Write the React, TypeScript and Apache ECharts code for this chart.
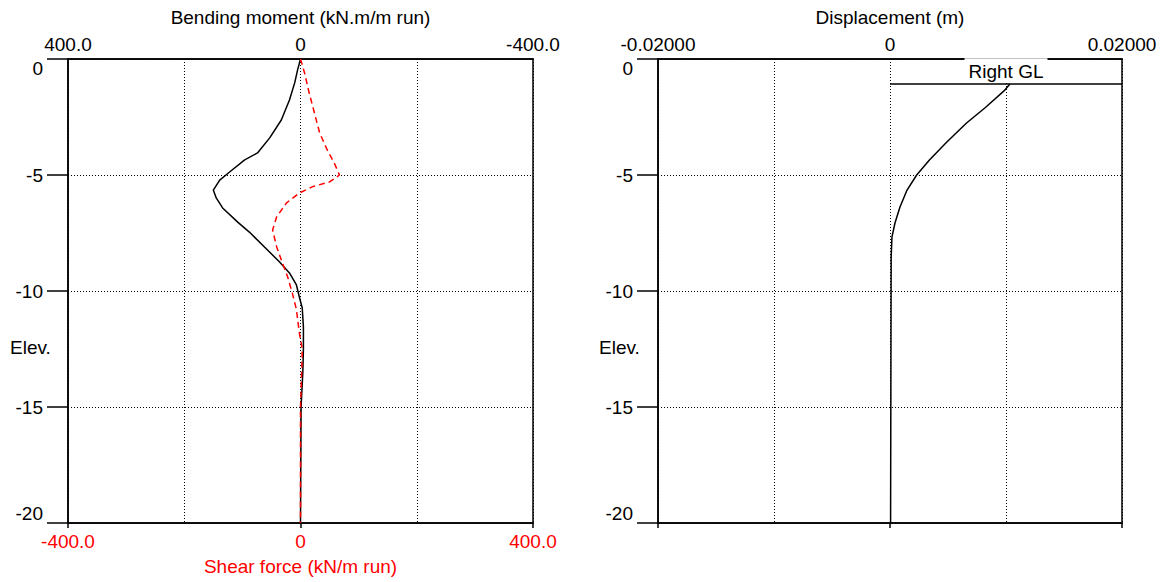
import React, { useEffect, useRef } from "react";
import * as echarts from "echarts";

// Bending moment (kN.m/m run) vs elevation
const bmElev = [0, -0.47, -1.03, -1.77, -2.63, -3.4, -4.05, -4.35, -4.87, -5.22, -5.65, -5.99, -6.42, -7.03, -7.46, -8.1, -8.75, -9.22, -9.74, -10.26, -10.73, -11.55, -12.5, -13.5, -15, -20];
const bmValue = [0, 5, 10, 19, 33, 53, 74, 96, 122, 139, 150, 145, 134, 108, 88, 62, 36, 19, 7, 2, -3, -5, -5, -4, -1, 0];

// Shear force (kN/m run) vs elevation
const sfElev = [0, -0.6, -1.47, -2.33, -3.19, -3.92, -4.48, -5.0, -5.3, -5.5, -5.78, -6.2, -6.8, -7.37, -8.1, -8.8, -9.4, -10.1, -10.8, -11.8, -12.5, -13.5, -15, -20];
const sfValue = [0, 7, 15, 24, 33, 46, 58, 67, 50, 21, -2, -24, -41, -48, -41, -31, -22, -14, -7, -2, 3, 2, 0, 0];

// Displacement (m) vs elevation
const dispElev = [-1.08, -1.34, -2.1, -2.76, -3.58, -4.35, -5.0, -5.65, -6.38, -7.07, -7.67, -8.53, -20];
const dispValue = [0.01034, 0.0099, 0.0082, 0.0066, 0.0049, 0.0034, 0.0023, 0.00147, 0.00086, 0.00043, 0.00017, 0.0001, 0.00005];

// Ground level marker
const rightGLElev = -1.05;
const rightGLFrom = 0;
const rightGLTo = 0.02;
const rightGLLabel = "Right GL";

// Axis ranges / titles
const elevMin = -20;
const elevMax = 0;
const elevStep = 5;
const forceMin = -400;
const forceMax = 400;
const dispMin = -0.02;
const dispMax = 0.02;
const titleBM = "Bending moment (kN.m/m run)";
const titleSF = "Shear force (kN/m run)";
const titleDisp = "Displacement (m)";
const elevLabel = "Elev.";

const FONT = "Liberation Sans";
const FS = 19;

export default function App() {
  const ref = useRef<HTMLDivElement>(null);
  useEffect(() => {
    if (!ref.current) return;
    const chart = echarts.init(ref.current, null, { renderer: "svg" });

    const yAxisBase = (gridIndex: number) => ({
      type: "value",
      gridIndex,
      min: elevMin,
      max: elevMax,
      interval: elevStep,
      axisLine: { show: true, onZero: false, lineStyle: { color: "#000", width: 1.5 } },
      axisTick: { show: true, length: 21, lineStyle: { color: "#000", width: 1.5 } },
      axisLabel: {
        color: "#000",
        fontSize: FS,
        fontFamily: FONT,
        margin: 25,
        formatter: (v: number) => String(v),
        verticalAlignMinLabel: "bottom",
        verticalAlignMaxLabel: "top",
      },
      splitLine: { show: true, lineStyle: { color: "#000", type: [1, 2], width: 1 } },
    });

    const fmtForce = (v: number) => {
      if (Math.abs(v) < 1e-9) return "0";
      if (Math.abs(Math.abs(v) - 400) < 1e-9) return v.toFixed(1);
      return "";
    };
    const fmtDisp = (v: number) => {
      if (Math.abs(v) < 1e-12) return "0";
      if (Math.abs(Math.abs(v) - 0.02) < 1e-9) return v.toFixed(5);
      return "";
    };

    const gridBase = {
      top: 59,
      height: 464,
      show: true,
      borderColor: "#000",
      borderWidth: 1.5,
      backgroundColor: "transparent",
      containLabel: false,
      outerBoundsMode: "none",
    };

    const option: any = {
      animation: false,
      backgroundColor: "#fff",
      textStyle: { fontFamily: FONT },
      grid: [
        { ...gridBase, left: 68, width: 465 },
        { ...gridBase, left: 658, width: 464 },
      ],
      xAxis: [
        {
          type: "value",
          gridIndex: 0,
          position: "top",
          min: forceMin,
          max: forceMax,
          interval: 200,
          inverse: true,
          name: titleBM,
          nameLocation: "middle",
          nameGap: 32,
          nameTextStyle: { color: "#000", fontSize: FS, fontFamily: FONT },
          axisLine: { show: true, onZero: false, lineStyle: { color: "#000", width: 1.5 } },
          axisTick: { show: false },
          axisLabel: { color: "#000", fontSize: FS, fontFamily: FONT, margin: 5, formatter: fmtForce },
          splitLine: { show: true, lineStyle: { color: "#000", type: [1, 2], width: 1 } },
        },
        {
          type: "value",
          gridIndex: 0,
          position: "bottom",
          min: forceMin,
          max: forceMax,
          interval: 400,
          name: titleSF,
          nameLocation: "middle",
          nameGap: 34,
          nameTextStyle: { color: "#ff0000", fontSize: FS, fontFamily: FONT },
          axisLine: { show: true, onZero: false, lineStyle: { color: "#000", width: 1.5 } },
          axisTick: { show: true, length: 5, lineStyle: { color: "#000", width: 1.5 } },
          axisLabel: { color: "#ff0000", fontSize: FS, fontFamily: FONT, margin: 9, formatter: fmtForce },
          splitLine: { show: false },
        },
        {
          type: "value",
          gridIndex: 1,
          position: "top",
          min: dispMin,
          max: dispMax,
          interval: 0.01,
          name: titleDisp,
          nameLocation: "middle",
          nameGap: 32,
          nameTextStyle: { color: "#000", fontSize: FS, fontFamily: FONT },
          axisLine: { show: true, onZero: false, lineStyle: { color: "#000", width: 1.5 } },
          axisTick: { show: false },
          axisLabel: { color: "#000", fontSize: FS, fontFamily: FONT, margin: 5, formatter: fmtDisp },
          splitLine: { show: true, lineStyle: { color: "#000", type: [1, 2], width: 1 } },
        },
        {
          type: "value",
          gridIndex: 1,
          position: "bottom",
          min: dispMin,
          max: dispMax,
          interval: 0.02,
          axisLine: { show: true, onZero: false, lineStyle: { color: "#000", width: 1.5 } },
          axisTick: { show: true, length: 5, lineStyle: { color: "#000", width: 1.5 } },
          axisLabel: { show: false },
          splitLine: { show: false },
        },
      ],
      yAxis: [yAxisBase(0), yAxisBase(1)],
      series: [
        {
          type: "line",
          name: "Bending moment",
          xAxisIndex: 0,
          yAxisIndex: 0,
          symbol: "none",
          lineStyle: { color: "#000", width: 1.5 },
          data: bmElev.map((e, i) => [bmValue[i], e]),
          z: 3,
        },
        {
          type: "line",
          name: "Shear force",
          xAxisIndex: 1,
          yAxisIndex: 0,
          symbol: "none",
          lineStyle: { color: "#ff0000", width: 1.5, type: [6, 4] },
          data: sfElev.map((e, i) => [sfValue[i], e]),
          z: 4,
        },
        {
          type: "line",
          name: "Displacement",
          xAxisIndex: 2,
          yAxisIndex: 1,
          symbol: "none",
          lineStyle: { color: "#000", width: 1.5 },
          data: dispElev.map((e, i) => [dispValue[i], e]),
          z: 3,
          markLine: {
            symbol: "none",
            silent: true,
            lineStyle: { color: "#000", type: "solid", width: 1.5 },
            label: {
              show: true,
              position: "insideMiddleTop",
              formatter: rightGLLabel,
              color: "#000",
              fontSize: FS,
              fontFamily: FONT,
              backgroundColor: "#fff",
              padding: [4, 4, 0, 4],
              distance: 2,
            },
            data: [[{ coord: [rightGLFrom, rightGLElev] }, { coord: [rightGLTo, rightGLElev] }]],
          },
        },
      ],
      graphic: [
        { type: "text", left: 10, top: 338, style: { text: elevLabel, fontSize: FS, fontFamily: FONT, fill: "#000" } },
        { type: "text", left: 599, top: 338, style: { text: elevLabel, fontSize: FS, fontFamily: FONT, fill: "#000" } },
      ],
    };
    chart.setOption(option);
    return () => chart.dispose();
  }, []);
  return (
    <div
      ref={ref}
      style={{ position: "fixed", left: 0, top: 0, width: 1169, height: 582, background: "#fff" }}
    />
  );
}
